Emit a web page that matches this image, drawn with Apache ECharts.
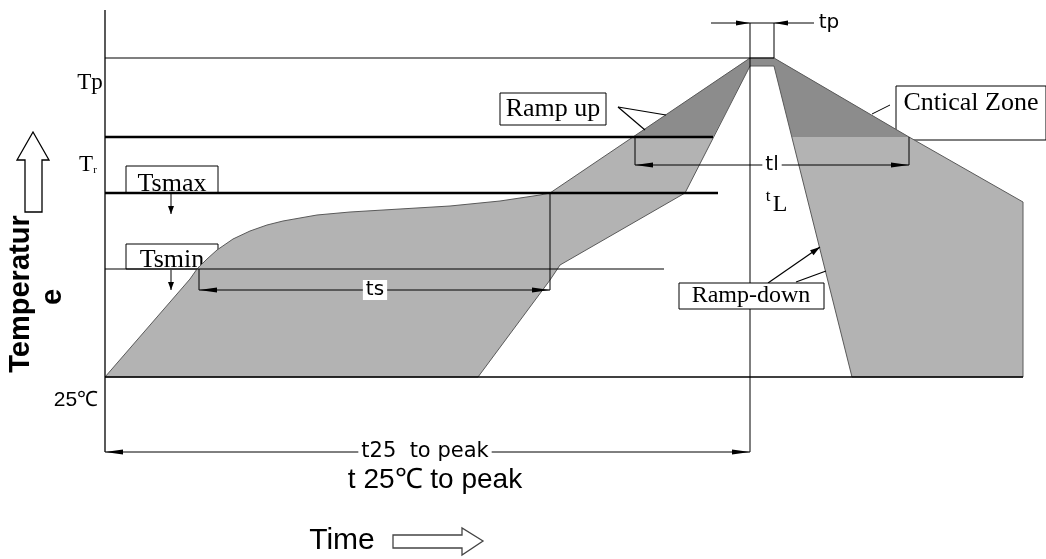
<!DOCTYPE html>
<html>
<head>
<meta charset="utf-8">
<title>Reflow profile</title>
<script src="https://cdn.jsdelivr.net/npm/echarts@6/dist/echarts.min.js"></script>
<style>
html, body { margin: 0; padding: 0; background: #fff; }
#chart { width: 1046px; height: 559px; }
</style>
</head>
<body>
<div id="chart"></div>
<script>
// x = time from the 25℃ start, y = rise above 25℃ (schematic units)
var heatUpper = [[0, 0], [85, 98], [92, 108], [102, 118], [112, 127], [128, 138], [145, 146], [162, 152],
  [178, 156], [195, 159], [212, 162], [245, 165], [295, 168], [345, 171], [395, 176], [435, 182], [445, 184], [645, 319]];
var coolUpper = [[669, 319], [804, 240], [918, 175], [918, 0]];
var coolLower = [[747, 0], [669, 311]];
var heatLower = [[645, 311], [580, 184], [455, 112], [445, 97], [373, 0]];
// zone above the liquidus line
var criticalZone = [[528, 240], [645, 319], [669, 319], [804, 240], [687, 240], [669, 311], [645, 311], [608, 240]];

// horizontal levels
var levelNames = ['Tp', 'Tr', 'Tsmax', 'Tsmin', '25℃'];
var levelValues = [319, 240, 184, 108, 0];
var levelEnds = [669, 608, 613, 559, 918];

// peak time and tp window
var peakTime = 645;
var peakEnd = 669;
var axisTop = 367;
var axisBottom = -75;
var tpTop = 354;

// dimension arrows
var dimNames = ['ts', 'tl', 't25  to peak'];
var dimStart = [94, 530, 0];
var dimEnd = [445, 804, 645];
var dimLevel = [87, 212, -75];
var dimLabelX = [270, 667, 320];

// annotation boxes
var boxNames = ['Tsmax', 'Tsmin', 'Cntical Zone', 'Ramp up', 'Ramp-down'];
var boxRects = [[21, 184, 113, 211], [21, 108, 113, 133], [791, 237, 941, 291], [395, 252, 501, 284], [574, 68, 719, 94]];
var boxTextPos = [[67, 193], [67, 117], [866, 274], [448, 268], [646, 81]];

// leaders from the boxes
var rampUpLeaders = [[[513, 270], [561, 262]], [[513, 270], [540, 247]]];
var criticalLeader = [[785, 272], [767, 263]];
var rampDownLeaders = [[[663, 94], [715, 130]], [[691, 95], [721, 106]]];

// hollow axis arrows
var tempArrow = [[-72, 245], [-56, 217], [-63, 217], [-63, 165], [-80, 165], [-80, 217], [-88, 217]];
var timeArrow = [[288, -158], [357, -158], [357, -151], [378, -164], [357, -178], [357, -171], [288, -171]];

var SERIF = '"Liberation Serif", "Times New Roman", serif';
var SANS = '"Liberation Sans", Arial, sans-serif';
var WIDE = '"DejaVu Sans", sans-serif';

var chart = echarts.init(document.getElementById('chart'));

function seg(api, a, b, w) {
  var p = api.coord(a), q = api.coord(b);
  return { type: 'line', shape: { x1: p[0], y1: p[1], x2: q[0], y2: q[1] }, style: { stroke: '#000', lineWidth: w || 1 } };
}

function head(api, a, b, len, half) {
  var p = api.coord(a), q = api.coord(b);
  var dx = q[0] - p[0], dy = q[1] - p[1];
  var d = Math.sqrt(dx * dx + dy * dy);
  var ux = dx / d, uy = dy / d;
  var bx = q[0] - ux * len, by = q[1] - uy * len;
  return {
    type: 'polygon',
    shape: { points: [[q[0], q[1]], [bx - uy * half, by + ux * half], [bx + uy * half, by - ux * half]] },
    style: { fill: '#000' }
  };
}

function poly(api, pts, style) {
  return { type: 'polygon', shape: { points: pts.map(function (p) { return api.coord(p); }) }, style: style };
}

function txt(api, pos, text, font, extra) {
  var p = api.coord(pos);
  var el = {
    type: 'text', x: p[0], y: p[1],
    style: { text: text, font: font, fill: '#000', align: 'center', verticalAlign: 'middle' }
  };
  if (extra) {
    if (extra.rotation) el.rotation = extra.rotation;
    if (extra.bg) { el.style.backgroundColor = '#fff'; el.style.padding = [0, 3]; }
  }
  return el;
}

function box(api, i) {
  var r = boxRects[i];
  var a = api.coord([r[0], r[3]]), b = api.coord([r[2], r[1]]);
  return {
    type: 'rect',
    shape: { x: a[0], y: a[1], width: b[0] - a[0], height: b[1] - a[1] },
    style: { fill: '#fff', stroke: '#000', lineWidth: 1 }
  };
}

var bandOutline = heatUpper.concat(coolUpper, coolLower, heatLower);

function renderOnce(fn) {
  return {
    type: 'custom',
    data: [[0, 0]],
    renderItem: function (params, api) { return { type: 'group', children: fn(api) }; }
  };
}

var option = {
  animation: false,
  backgroundColor: '#fff',
  grid: { left: 0, right: 0, top: 0, bottom: 0 },
  xAxis: { type: 'value', min: -105, max: 941, show: false },
  yAxis: { type: 'value', min: -182, max: 377, show: false },
  series: [
    // boxes that sit under the profile
    renderOnce(function (api) {
      var out = [];
      [0, 1, 2].forEach(function (i) {
        out.push(box(api, i));
        out.push(txt(api, boxTextPos[i], boxNames[i], '26px ' + SERIF));
      });
      out.push(seg(api, criticalLeader[0], criticalLeader[1], 1));
      return out;
    }),
    // profile band
    renderOnce(function (api) {
      return [
        poly(api, bandOutline, { fill: '#b3b3b3' }),
        poly(api, criticalZone, { fill: '#8c8c8c' }),
        poly(api, bandOutline, { fill: 'none', stroke: '#5a5a5a', lineWidth: 1 })
      ];
    }),
    // levels, axes and dimension lines
    renderOnce(function (api) {
      var out = [];
      var widths = [1.2, 2.4, 2.4, 1.2, 1.5];
      levelValues.forEach(function (v, i) {
        out.push(seg(api, [0, v], [levelEnds[i], v], widths[i]));
      });
      out.push(seg(api, [0, axisTop], [0, axisBottom], 1.3));
      out.push(seg(api, [peakTime, tpTop], [peakTime, axisBottom], 1));
      out.push(seg(api, [peakEnd, tpTop], [peakEnd, levelValues[0]], 1));
      out.push(seg(api, [peakTime, tpTop], [peakEnd, tpTop], 1));
      // extension ticks
      out.push(seg(api, [dimStart[0], levelValues[3]], [dimStart[0], dimLevel[0]], 1));
      out.push(seg(api, [dimEnd[0], levelValues[2]], [dimEnd[0], dimLevel[0]], 1));
      out.push(seg(api, [dimStart[1], levelValues[1]], [dimStart[1], dimLevel[1]], 1));
      out.push(seg(api, [dimEnd[1], levelValues[1]], [dimEnd[1], dimLevel[1]], 1));
      dimNames.forEach(function (n, i) {
        var a = [dimStart[i], dimLevel[i]], b = [dimEnd[i], dimLevel[i]];
        out.push(seg(api, a, b, 1));
        out.push(head(api, b, a, 18, 2.6));
        out.push(head(api, a, b, 18, 2.6));
      });
      // tp arrows
      out.push(seg(api, [606, tpTop], [peakTime, tpTop], 1));
      out.push(head(api, [606, tpTop], [peakTime, tpTop], 14, 2.6));
      out.push(seg(api, [709, tpTop], [peakEnd, tpTop], 1));
      out.push(head(api, [709, tpTop], [peakEnd, tpTop], 14, 2.6));
      // Tsmax / Tsmin pointers
      out.push(seg(api, [66, 183], [66, 163], 1));
      out.push(head(api, [66, 183], [66, 163], 8, 3));
      out.push(seg(api, [66, 107], [66, 87], 1));
      out.push(head(api, [66, 107], [66, 87], 8, 3));
      // leaders
      rampUpLeaders.forEach(function (l) { out.push(seg(api, l[0], l[1], 1.2)); });
      out.push(seg(api, rampDownLeaders[0][0], rampDownLeaders[0][1], 1.2));
      out.push(head(api, rampDownLeaders[0][0], rampDownLeaders[0][1], 10, 3));
      out.push(seg(api, rampDownLeaders[1][0], rampDownLeaders[1][1], 1.2));
      return out;
    }),
    // boxes on top
    renderOnce(function (api) {
      return [
        box(api, 3), txt(api, boxTextPos[3], boxNames[3], '26px ' + SERIF),
        box(api, 4), txt(api, boxTextPos[4], boxNames[4], '24px ' + SERIF)
      ];
    }),
    // texts and hollow arrows
    renderOnce(function (api) {
      var out = [];
      out.push(txt(api, [-15, 294], levelNames[0], '23px ' + SERIF));
      out.push(txt(api, [-19, 212], 'T', '23px ' + SERIF));
      out.push(txt(api, [-10, 207], 'r', '11px ' + SERIF));
      out.push(txt(api, [-29, -23], levelNames[4], '21px ' + SANS));
      out.push(txt(api, [-84, 83], 'Temperatur', 'bold 29px ' + SANS, { rotation: Math.PI / 2 }));
      out.push(txt(api, [-52, 80], 'e', 'bold 29px ' + SANS, { rotation: Math.PI / 2 }));
      out.push(txt(api, [330, -103], 't 25℃ to peak', '28px ' + SANS));
      out.push(txt(api, [237, -164], 'Time', '30px ' + SANS));
      out.push(txt(api, [724, 354], 'tp', '20px ' + WIDE));
      out.push(txt(api, [663, 180], 't', '17px ' + SERIF));
      out.push(txt(api, [675, 172], 'L', '24px ' + SERIF));
      dimNames.forEach(function (n, i) {
        out.push(txt(api, [dimLabelX[i], dimLevel[i]], n, (i === 2 ? '21px ' : '20px ') + WIDE, { bg: true }));
      });
      out.push(poly(api, tempArrow, { fill: '#fff', stroke: '#000', lineWidth: 1.3 }));
      out.push(poly(api, timeArrow, { fill: '#fff', stroke: '#444', lineWidth: 1.3 }));
      return out;
    })
  ]
};

chart.setOption(option);
</script>
</body>
</html>
